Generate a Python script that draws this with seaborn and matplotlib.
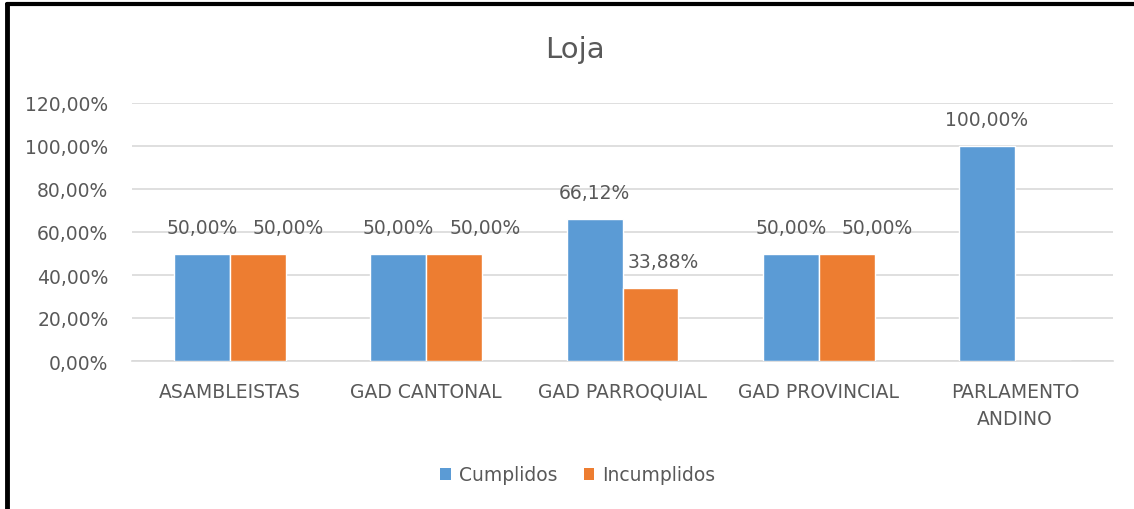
import matplotlib
matplotlib.use("Agg")
import matplotlib.pyplot as plt
import matplotlib.ticker as mticker
from matplotlib.patches import Patch
from matplotlib.lines import Line2D
import seaborn as sns
import pandas as pd

categories = ["ASAMBLEISTAS", "GAD CANTONAL", "GAD PARROQUIAL", "GAD PROVINCIAL", "PARLAMENTO\nANDINO"]
cumplidos = [50.00, 50.00, 66.12, 50.00, 100.00]
incumplidos = [50.00, 50.00, 33.88, 50.00, 0.0]
series = ["Cumplidos", "Incumplidos"]
COLORS = ["#5B9BD5", "#ED7D31"]
TEXT = "#595959"
FS = 13.5

# horizontal nudge (points) of the data labels, as placed in the reference
label_dx = [[0, 0, 0, 0, 0], [22, 22, 9, 22, 0]]

df = pd.DataFrame({
    "cat": categories * 2,
    "serie": [series[0]] * len(categories) + [series[1]] * len(categories),
    "val": cumplidos + incumplidos,
})

sns.set_theme(style="white")
plt.rcParams["font.family"] = ["DejaVu Sans"]

fig = plt.figure(figsize=(11.34, 5.10), dpi=100)
ax = fig.add_axes([132 / 1134, 1 - 362 / 510, 981 / 1134, 258 / 510])

sns.barplot(data=df, x="cat", y="val", hue="serie", palette=COLORS,
            width=0.57, gap=0, saturation=1, ax=ax, legend=False, zorder=3)

for i, cont in enumerate(ax.containers):
    for j, b in enumerate(cont):
        h = b.get_height()
        if h <= 0:
            continue
        ax.annotate(f"{h:.2f}%".replace(".", ","), (b.get_x() + b.get_width() / 2, h),
                    xytext=(label_dx[i][j], 12), textcoords="offset points",
                    ha="center", va="bottom", fontsize=FS, color=TEXT)

ax.set_ylim(0, 120)
ax.set_xlim(-0.5, len(categories) - 0.5)
ax.yaxis.set_major_locator(mticker.MultipleLocator(20))
ax.yaxis.set_major_formatter(mticker.FuncFormatter(lambda v, _: f"{v:.2f}%".replace(".", ",")))
ax.grid(axis="y", color="#D9D9D9", lw=1.2, zorder=0)
for s in ["top", "right", "left"]:
    ax.spines[s].set_visible(False)
ax.spines["bottom"].set_color("#D9D9D9")
ax.spines["bottom"].set_linewidth(1.2)
ax.tick_params(axis="both", length=0, labelsize=FS, labelcolor=TEXT)
ax.tick_params(axis="y", pad=17)
ax.tick_params(axis="x", pad=15)
for t in ax.get_xticklabels():
    t.set_linespacing(1.55)
ax.set_xlabel("")
ax.set_ylabel("")

fig.text(575 / 1134, 1 - 50 / 510, "Loja", ha="center", va="center", fontsize=21, color=TEXT)

handles = [Patch(facecolor=c, edgecolor="none") for c in COLORS]
fig.legend(handles, series, loc="center", bbox_to_anchor=(578 / 1134, 1 - 476 / 510),
           ncol=2, frameon=False, fontsize=FS, labelcolor=TEXT, handlelength=0.55,
           handleheight=0.55, handletextpad=0.45, columnspacing=1.4)

# frame border (left and top visible in reference)
fig.add_artist(Line2D([7 / 1134, 7 / 1134], [0, 1 - 5 / 510], color="black", lw=3.5))
fig.add_artist(Line2D([7 / 1134, 1], [1 - 5 / 510, 1 - 5 / 510], color="black", lw=3))

fig.savefig("out.png", dpi=100)
